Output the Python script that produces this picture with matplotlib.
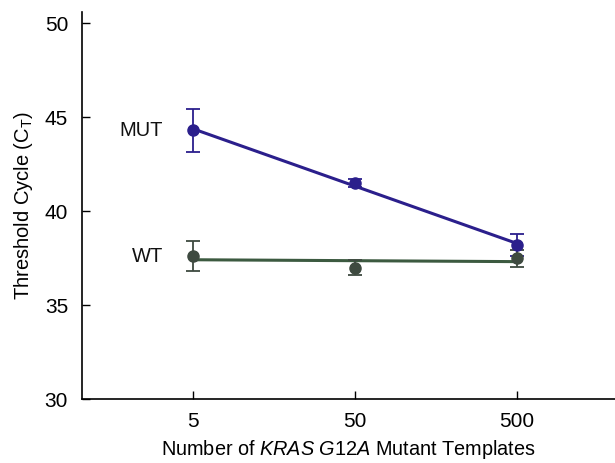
import numpy as np
import matplotlib
matplotlib.use("Agg")
import matplotlib.pyplot as plt

plt.rcParams["mathtext.fontset"] = "custom"
plt.rcParams["mathtext.rm"] = "Liberation Sans"
plt.rcParams["mathtext.it"] = "Liberation Sans:italic"

templates = [5, 50, 500]
mut_ct = [44.3, 41.5, 38.2]
mut_err = [1.15, 0.2, 0.6]
wt_ct = [37.6, 37.0, 37.5]
wt_err = [0.8, 0.4, 0.45]
tick_labels = ["5", "50", "500"]

mut_color = "#2b1f8c"
wt_color = "#3c5a40"
wt_marker = "#3e4a40"

fig = plt.figure(figsize=(6.15, 4.63), dpi=100)
ax = fig.add_axes([0.1333, 0.138, 0.8667, 0.836])

lx = np.log10(templates)
for ct, err, lc, mc, lab in [(mut_ct, mut_err, mut_color, mut_color, "MUT"),
                             (wt_ct, wt_err, wt_color, wt_marker, "WT")]:
    slope, icpt = np.polyfit(lx, ct, 1)
    fit = slope * lx + icpt
    ax.plot(templates, fit, color=lc, lw=2.2, zorder=2)
    ax.errorbar(templates, ct, yerr=err, fmt="o", color=mc, ecolor=mc,
                ms=8, capsize=5, elinewidth=1.3, capthick=1.3, zorder=3)
    ax.text(3.25, ct[0], lab, ha="right", va="center", fontsize=14.5,
            family="Liberation Sans", color="#111111")

ax.set_xscale("log")
ax.set_xlim(1.03, 2014)
ax.set_ylim(30, 50.6)
ax.set_xticks(templates)
ax.set_xticklabels(tick_labels)
ax.minorticks_off()
ax.set_yticks([30, 35, 40, 45, 50])
ax.tick_params(direction="in", length=6, width=1, labelsize=15)
ax.tick_params(axis="x", pad=9)
ax.tick_params(axis="y", pad=10)
for t in ax.get_xticklabels() + ax.get_yticklabels():
    t.set_family("Liberation Sans")
for s in ["top", "right"]:
    ax.spines[s].set_visible(False)
for s in ["left", "bottom"]:
    ax.spines[s].set_linewidth(1.2)

ax.set_ylabel("Threshold Cycle (C$_\\mathregular{T}$)", fontsize=14.5,
              family="Liberation Sans", labelpad=7)
ax.set_xlabel("Number of $\\mathit{KRAS\\ G12A}$ Mutant Templates", fontsize=14.3,
              family="Liberation Sans", labelpad=5)

fig.savefig("out.png", dpi=100)
